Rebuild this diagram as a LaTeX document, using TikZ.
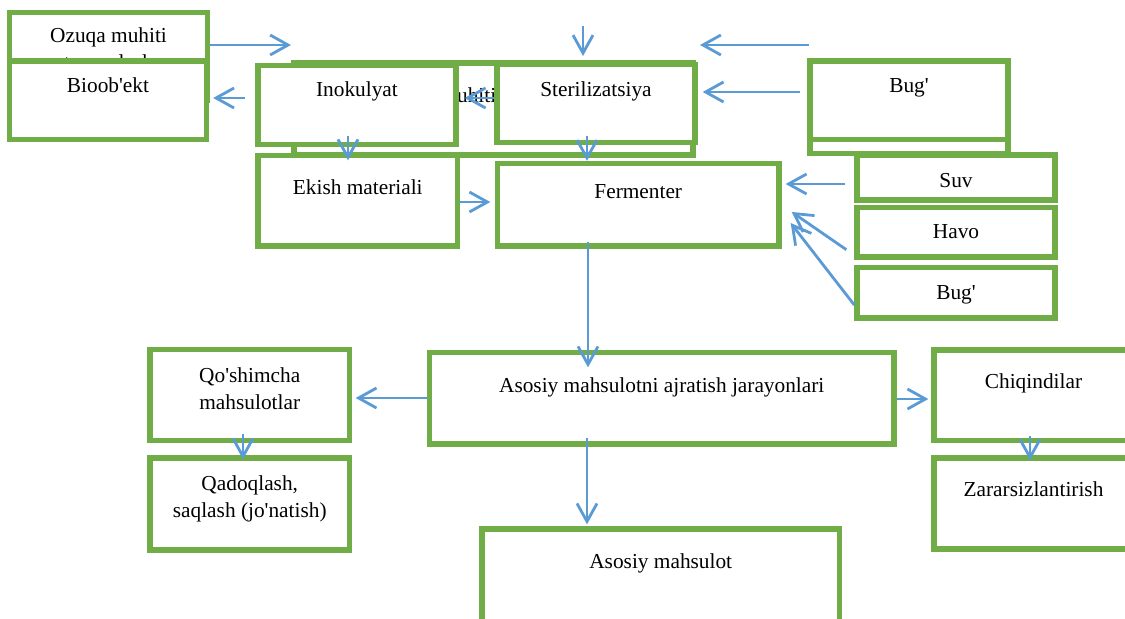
\documentclass[tikz,border=0pt]{standalone}
\usepackage{fontspec}
\setmainfont{Liberation Serif}
\usetikzlibrary{arrows.meta,fit}
\definecolor{boxgreen}{HTML}{70AD47}
\definecolor{arrowblue}{HTML}{5B9BD5}
\newcommand{\ap}{\textquotesingle}

\begin{document}
\begin{tikzpicture}[x=0.75pt, y=-0.75pt, font=\fontsize{16}{20.25}\selectfont,
  box/.style={draw=boxgreen, line width=4pt, fill=white, inner sep=0pt},
  txt/.style={anchor=base, align=center, inner sep=0pt},
  flow/.style={draw=arrowblue, line width=2.1pt, -{Straight Barb[length=13.5pt,width=15pt]}}]
\useasboundingbox (0,0) rectangle (1125,618);

% top row
\node[box, fit={(9.5,12.5) (207.5,100)}] (ozuqa) {};
\node[txt] (ozuqa-t) at (ozuqa.center |- 0,69) {Ozuqa muhiti\\tayyorlash};
\node[box, fit={(9.5,61) (206.5,139.5)}] (bioob) {};
\node[txt] (bioob-t) at (bioob.center |- 0,92) {Bioob\ap ekt};
\node[box, fit={(294,63) (693,155)}] (muhit) {};
\node[txt] (muhit-t) at (485,102) {Ozuqa muhiti tayyorlash};
\node[box, fit={(258,65.5) (456,144.5)}] (inok) {};
\node[txt] (inok-t) at (inok.center |- 0,96) {Inokulyat};
\node[box, fit={(497,64.5) (695,142.5)}] (steril) {};
\node[txt] (steril-t) at (steril.center |- 0,96) {Sterilizatsiya};
\node[box, fit={(810,75) (1008,153.5)}] (bug0) {};
\node[box, fit={(810,61) (1008,139.5)}] (bug1) {};
\node[txt] (bug1-t) at (bug1.center |- 0,92) {Bug\ap};

% fermenter and its inputs
\node[box, fit={(258,155.5) (457.5,246)}] (ekish) {};
\node[txt] (ekish-t) at (ekish.center |- 0,194) {Ekish materiali};
\node[box, fit={(497.5,163.5) (779,246)}] (ferm) {};
\node[txt] (ferm-t) at (ferm.center |- 0,198) {Fermenter};
\node[box, fit={(857,155) (1055,200)}] (suv) {};
\node[txt] (suv-t) at (suv.center |- 0,187) {Suv};
\node[box, fit={(857,207.5) (1055,257)}] (havo) {};
\node[txt] (havo-t) at (havo.center |- 0,238) {Havo};
\node[box, fit={(857,267.5) (1055,318)}] (bug2) {};
\node[txt] (bug2-t) at (bug2.center |- 0,299) {Bug\ap};

% lower part
\node[box, fit={(150,349.5) (349.5,440.5)}] (qosh) {};
\node[txt] (qosh-t) at (qosh.center |- 0,409) {Qo\ap shimcha\\mahsulotlar};
\node[box, fit={(150,458) (349.5,550)}] (qadoq) {};
\node[txt] (qadoq-t) at (qadoq.center |- 0,517) {Qadoqlash,\\saqlash (jo\ap natish)};
\node[box, fit={(429.5,352.5) (894,444)}] (jarayon) {};
\node[txt] (jarayon-t) at (jarayon.center |- 0,392) {Asosiy mahsulotni ajratish jarayonlari};
\node[box, fit={(934,350) (1133,440.5)}] (chiq) {};
\node[txt] (chiq-t) at (chiq.center |- 0,388) {Chiqindilar};
\node[box, fit={(934,458) (1133,549)}] (zarar) {};
\node[txt] (zarar-t) at (zarar.center |- 0,496) {Zararsizlantirish};
\node[box, fit={(482,529) (839.5,640)}] (asosiy) {};
\node[txt] (asosiy-t) at (asosiy.center |- 0,568) {Asosiy mahsulot};

% free arrow ends
\coordinate (a1) at (291,45);
\coordinate (b0) at (583,26);
\coordinate (b1) at (583,56);
\coordinate (c0) at (809,45);
\coordinate (c1) at (700,45);

% arrows
\draw[flow] (ozuqa.east |- a1) -- (a1);
\draw[flow] (b0) -- (b1);
\draw[flow] (c0) -- (c1);
\draw[flow, shorten <=5.25pt, shorten >=3.75pt] (bug1.west |- 0,92) -- (steril.east |- 0,92);
\draw[flow, shorten <=7.5pt, shorten >=3pt] (inok.west |- 0,98) -- (bioob.east |- 0,98);
\draw[flow, shorten >=4.5pt] (steril.west |- 0,98) -- (inok.east |- 0,98);
\draw[flow, shorten <=-8.6pt, shorten >=-5.6pt] (inok.south -| 348,0) -- (ekish.north -| 348,0);
\draw[flow, shorten <=-7.1pt] (steril.south -| 587,0) -- (ferm.north -| 587,0);
\draw[flow, shorten >=3.4pt] (ekish.east |- 0,202) -- (ferm.west |- 0,202);
\draw[flow, shorten <=6.75pt, shorten >=3pt] (suv.west |- 0,184) -- (ferm.east |- 0,184);
\draw[flow] ([xshift=-6pt,yshift=7.5pt]havo.south west) -- ([xshift=7.5pt,yshift=-5.4pt]ferm.east);
\draw[flow] ([yshift=-9.2pt]bug2.west) -- ([xshift=6.75pt,yshift=-13.7pt]ferm.east);
\draw[flow, shorten <=-5.25pt, shorten >=-13.1pt] (ferm.south -| 588,0) -- (jarayon.north -| 588,0);
\draw[flow, shorten >=2.6pt] (jarayon.west |- 0,398) -- (qosh.east |- 0,398);
\draw[flow, shorten <=-7.1pt, shorten >=-3pt] (qosh.south -| 243,0) -- (qadoq.north -| 243,0);
\draw[flow, shorten >=2.25pt] (jarayon.east |- 0,399) -- (chiq.west |- 0,399);
\draw[flow, shorten <=-5.6pt, shorten >=-3.75pt] (chiq.south -| 1030,0) -- (zarar.north -| 1030,0);
\draw[flow, shorten <=-6.75pt, shorten >=1.5pt] (jarayon.south -| 587,0) -- (asosiy.north -| 587,0);
\end{tikzpicture}
\end{document}
